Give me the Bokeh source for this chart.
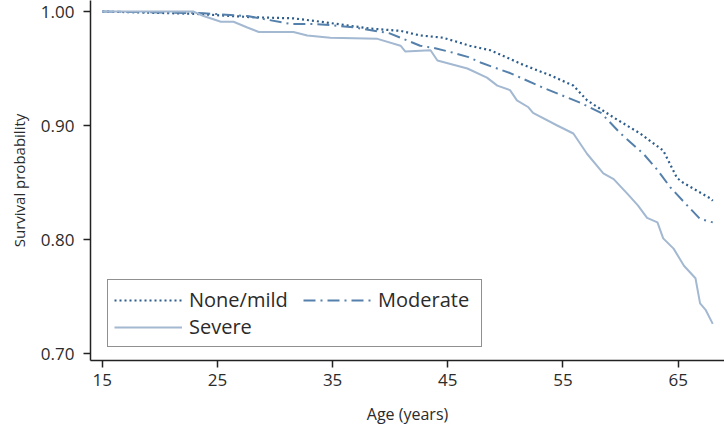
from bokeh.plotting import figure
from bokeh.models import Range1d, FixedTicker, Legend, LegendItem
from bokeh.embed import file_html
from bokeh.resources import INLINE

# Data
none_mild_age = [15.0, 22.9, 28.0, 31.6, 34.0, 38.3, 40.9, 42.6, 44.6, 46.9, 48.7,
                 51.6, 53.9, 55.9, 57.1, 59.4, 61.7, 63.7, 64.9, 65.4, 67.8, 68.0]
none_mild_surv = [1.000, 0.998, 0.995, 0.994, 0.991, 0.985, 0.983, 0.979, 0.977, 0.970, 0.966,
                  0.953, 0.944, 0.935, 0.922, 0.907, 0.893, 0.878, 0.854, 0.850, 0.836, 0.834]

moderate_age = [15.0, 23.8, 27.6, 31.4, 33.3, 34.8, 36.9, 39.9, 42.6, 43.8, 45.4, 46.8,
                47.9, 50.4, 53.3, 56.5, 58.3, 60.0, 62.0, 63.2, 64.3, 65.4, 66.9, 68.0]
moderate_surv = [1.000, 0.9985, 0.996, 0.989, 0.989, 0.988, 0.986, 0.981, 0.970, 0.968, 0.964, 0.960,
                 0.955, 0.946, 0.933, 0.920, 0.911, 0.893, 0.875, 0.861, 0.846, 0.834, 0.818, 0.815]

severe_age = [15.0, 22.9, 23.8, 25.3, 26.4, 27.6, 28.6, 31.6, 32.8, 34.8, 38.9, 40.9, 41.3,
              43.5, 44.1, 46.7, 48.4, 49.3, 50.4, 51.0, 52.0, 52.4, 54.5, 55.9, 57.1, 58.5,
              59.4, 60.6, 61.5, 62.3, 63.2, 63.7, 64.6, 65.5, 66.5, 66.9, 67.4, 68.0]
severe_surv = [1.000, 1.000, 0.996, 0.991, 0.991, 0.986, 0.982, 0.982, 0.979, 0.977, 0.976, 0.970, 0.965,
               0.966, 0.957, 0.950, 0.942, 0.935, 0.931, 0.922, 0.916, 0.911, 0.900, 0.893, 0.875, 0.858,
               0.853, 0.840, 0.830, 0.819, 0.815, 0.801, 0.792, 0.777, 0.766, 0.744, 0.738, 0.726]

x_ticks = [15, 25, 35, 45, 55, 65]
y_ticks = [0.70, 0.80, 0.90, 1.00]
y_tick_labels = {0.7: "0.70", 0.8: "0.80", 0.9: "0.90", 1.0: "1.00"}

FONT = "Open Sans"
TXT = "#2b2b2b"

p = figure(width=724, height=434, output_backend="svg", toolbar_location=None,
           x_range=Range1d(13.984, 69.02), y_range=Range1d(0.69386, 1.00965),
           min_border_left=90, min_border_right=0, min_border_top=0, min_border_bottom=74)
p.outline_line_color = None
p.xgrid.visible = False
p.ygrid.visible = False

r1 = p.line(none_mild_age, none_mild_surv, line_color="#2c5d8c", line_width=2.2, line_dash="2 3")
r2 = p.line(moderate_age, moderate_surv, line_color="#5580ab", line_width=2, line_dash="12 5 2 5")
r3 = p.line(severe_age, severe_surv, line_color="#a3b8d1", line_width=2)

for ax in (p.xaxis[0], p.yaxis[0]):
    ax.axis_line_color = "#222222"
    ax.axis_line_width = 1.5
    ax.major_tick_line_color = "#222222"
    ax.major_tick_line_width = 1.5
    ax.major_tick_out = 7
    ax.major_tick_in = 0
    ax.minor_tick_line_color = None
    ax.major_label_text_font = FONT
    ax.major_label_text_font_size = "17px"
    ax.major_label_text_color = TXT
    ax.axis_label_text_font = FONT
    ax.axis_label_text_font_style = "normal"
    ax.axis_label_text_color = TXT

p.xaxis.axis_label_text_font_size = "16px"
p.yaxis.axis_label_text_font_size = "15px"
p.xaxis.ticker = FixedTicker(ticks=x_ticks)
p.yaxis.ticker = FixedTicker(ticks=y_ticks)
p.yaxis.major_label_overrides = y_tick_labels
p.xaxis.axis_label = "Age (years)"
p.yaxis.axis_label = "Survival probability"
p.xaxis.major_label_standoff = 6
p.yaxis.major_label_standoff = 9
p.xaxis.axis_label_standoff = 14
p.yaxis.axis_label_standoff = 9


def style_legend(lg, bordered):
    lg.label_text_font = FONT
    lg.label_text_font_size = "20px"
    lg.label_text_color = TXT
    lg.glyph_width = 68
    lg.glyph_height = 20
    lg.label_standoff = 7
    lg.label_height = 20
    lg.spacing = -4
    lg.padding = 6
    lg.margin = 0
    if bordered:
        lg.border_line_color = "#222222"
        lg.border_line_width = 1.5
        lg.background_fill_color = "white"
        lg.background_fill_alpha = 1
    else:
        lg.border_line_color = None
        lg.background_fill_alpha = 0


# first column (with the frame around the whole legend)
legend1 = Legend(items=[LegendItem(label="None/mild", renderers=[r1]),
                        LegendItem(label="Severe", renderers=[r3])],
                 location=(17, 13), orientation="vertical")
style_legend(legend1, True)
legend1.label_width = 286
p.add_layout(legend1, "center")

# second column
legend2 = Legend(items=[LegendItem(label="Moderate", renderers=[r2])],
                 location=(213, 47), orientation="vertical")
style_legend(legend2, False)
p.add_layout(legend2, "center")

open("out.html", "w").write(file_html(p, INLINE))
